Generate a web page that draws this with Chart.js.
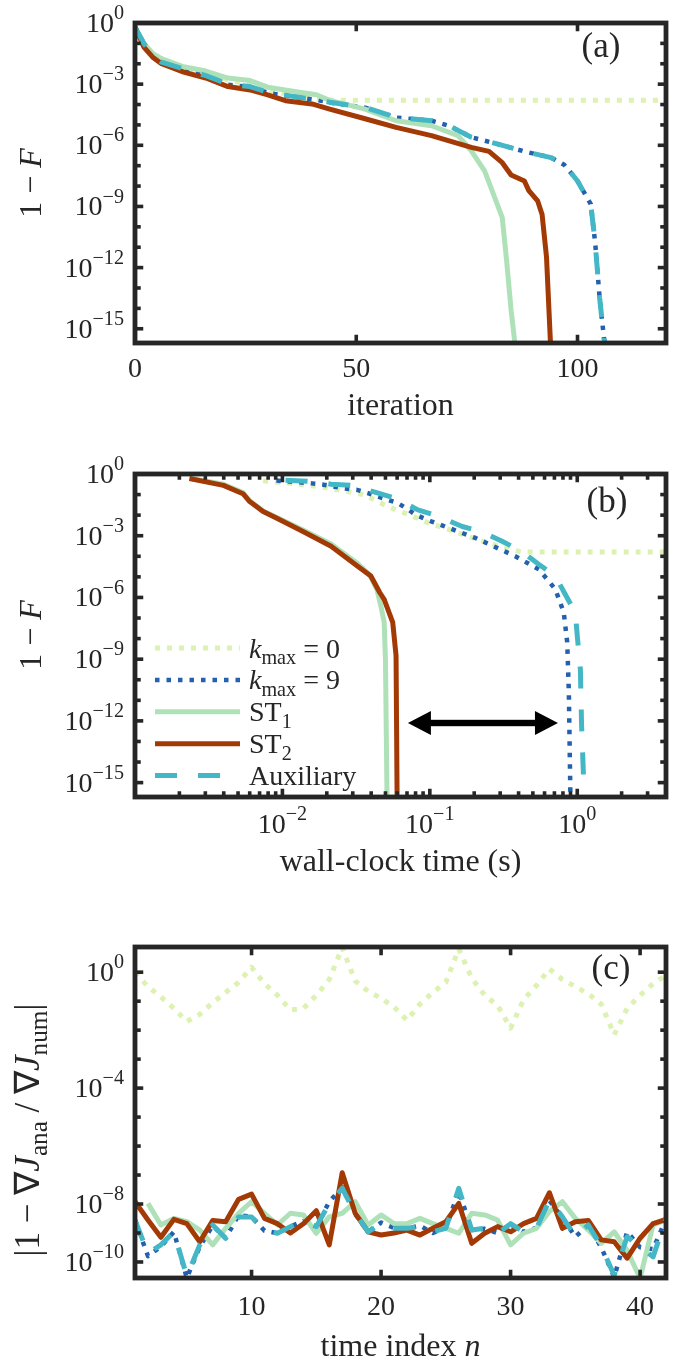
<!DOCTYPE html>
<html>
<head>
<meta charset="utf-8">
<title>Fidelity convergence and gradient error</title>
<script src="https://cdn.jsdelivr.net/npm/chart.js@4.4.1/dist/chart.umd.min.js"></script>
<style>
  html, body { margin: 0; padding: 0; background: #fff; }
  body { position: relative; width: 682px; height: 1361px; overflow: hidden; }
  canvas { position: absolute; left: 0; }
</style>
</head>
<body>
<canvas id="panelA" width="682" height="430" style="top:0px"></canvas>
<canvas id="panelB" width="682" height="460" style="top:430px"></canvas>
<canvas id="panelC" width="682" height="471" style="top:890px"></canvas>
<script>
// ---------- (a) infidelity vs iteration ----------
const iterKmax0 = [0, 2, 4, 6, 11, 16, 21, 26, 30, 36, 40, 42, 50, 60, 80, 100, 120];
const fidKmax0 = [0.63, 0.1, 0.028, 0.014, 6.3e-3, 3.5e-3, 1.6e-3, 1.0e-3, 5.0e-4, 2.8e-4, 1.9e-4, 1.7e-4, 1.6e-4, 1.6e-4, 1.6e-4, 1.6e-4, 1.6e-4];

const iterKmax9 = [0, 2, 4, 6, 11, 16, 21, 26, 30, 36, 41, 44, 52, 59, 67, 71, 76, 82, 88, 94, 97, 100, 103, 104, 105, 106, 107];
const fidKmax9 = [0.63, 0.1, 0.025, 0.012, 5.4e-3, 2.5e-3, 9.5e-4, 7.2e-4, 3.8e-4, 2.3e-4, 1.7e-4, 1.26e-4, 7.0e-5, 2.3e-5, 1.6e-5, 9.0e-6, 2.5e-6, 1.15e-6, 5.0e-7, 2.5e-7, 1.1e-7, 1.8e-8, 1.3e-9, 1.6e-11, 3.2e-14, 3.2e-16, 5e-17];

const iterST1 = [0, 2, 4, 6, 11, 16, 21, 26, 30, 35, 41, 44, 52, 59, 67, 73, 76, 79, 81, 83, 84, 85, 86];
const fidST1 = [0.63, 0.1, 0.032, 0.018, 7.1e-3, 4.4e-3, 2.0e-3, 1.5e-3, 7.1e-4, 4.7e-4, 3.0e-4, 1.6e-4, 6.0e-5, 1.6e-5, 9.1e-6, 3.0e-6, 5.4e-7, 5.5e-8, 4.0e-9, 2.8e-10, 2.0e-12, 7.9e-15, 1e-16];

const iterST2 = [0, 2, 4, 6, 11, 16, 21, 26, 30, 34, 40, 44, 52, 59, 67, 71, 76, 80, 83, 85, 88, 89, 91, 92, 93, 94];
const fidST2 = [0.63, 0.066, 0.021, 0.01, 3.9e-3, 2.0e-3, 7.6e-4, 5.2e-4, 3.0e-4, 1.55e-4, 1.07e-4, 6.0e-5, 2.0e-5, 7.6e-6, 3.0e-6, 1.66e-6, 7.9e-7, 5.0e-7, 1.4e-7, 3.5e-8, 1.78e-8, 6.0e-9, 1.86e-9, 4.0e-10, 3.2e-12, 6.3e-17];

const iterAux = [0, 2, 4, 6, 11, 16, 21, 26, 30, 36, 41, 44, 52, 59, 67, 71, 76, 82, 88, 94, 97, 100, 103, 104, 105, 106, 107];
const fidAux = [0.63, 0.1, 0.025, 0.012, 5.6e-3, 2.6e-3, 1.02e-3, 7.6e-4, 4.0e-4, 2.45e-4, 1.74e-4, 1.29e-4, 7.2e-5, 2.35e-5, 1.62e-5, 9.1e-6, 2.5e-6, 1.15e-6, 5.0e-7, 2.5e-7, 1.17e-7, 1.78e-8, 1.26e-9, 1.6e-11, 3.2e-14, 3.2e-16, 5e-17];

// ---------- (b) infidelity vs wall-clock time (s) ----------
const timeKmax0 = [7.4e-3, 1.12e-2, 1.74e-2, 2.5e-2, 3.6e-2, 5.2e-2, 7.1e-2, 9.8e-2, 0.135, 0.182, 0.28, 0.42, 0.63, 1.26, 2.5, 4.1];
const wallKmax0 = [0.47, 0.35, 0.25, 0.16, 9.8e-2, 2.6e-2, 1.1e-2, 4.2e-3, 2.0e-3, 9.3e-4, 3.5e-4, 1.6e-4, 1.6e-4, 1.6e-4, 1.6e-4, 1.6e-4];

const timeKmax9 = [9.1e-3, 1.12e-2, 1.58e-2, 1.9e-2, 2.6e-2, 3.2e-2, 3.8e-2, 4.9e-2, 6.0e-2, 6.9e-2, 8.1e-2, 0.102, 0.204, 0.38, 0.55, 0.71, 0.81, 0.855, 0.877, 0.9];
const wallKmax9 = [0.48, 0.43, 0.35, 0.3, 0.2, 0.17, 0.117, 0.063, 0.04, 0.022, 0.01, 5.0e-3, 7.8e-4, 1.0e-4, 2.3e-5, 2.5e-6, 1.86e-7, 6.6e-9, 2.5e-11, 1e-16];

const timeST1 = [2.34e-3, 3.98e-3, 5.4e-3, 6.0e-3, 7.4e-3, 9.1e-3, 1.38e-2, 2.14e-2, 3.24e-2, 3.9e-2, 4.37e-2, 4.68e-2, 4.9e-2, 5.0e-2, 5.13e-2];
const wallST1 = [0.63, 0.32, 0.126, 0.05, 0.016, 7.9e-3, 1.9e-3, 4.0e-4, 4.5e-5, 1.26e-5, 2.5e-6, 3.2e-7, 6.2e-8, 1e-9, 1e-16];

const timeST2 = [2.34e-3, 3.98e-3, 5.4e-3, 6.0e-3, 7.4e-3, 9.1e-3, 1.38e-2, 2.14e-2, 3.24e-2, 3.98e-2, 4.57e-2, 4.9e-2, 5.6e-2, 5.9e-2, 6.0e-2];
const wallST2 = [0.6, 0.28, 0.11, 0.046, 0.015, 7.2e-3, 1.6e-3, 3.1e-4, 3.3e-5, 1.1e-5, 1.74e-6, 8.1e-7, 6.2e-8, 1.5e-9, 1e-16];

const timeAux = [1.05e-2, 1.48e-2, 2.14e-2, 2.95e-2, 4.47e-2, 6.0e-2, 8.3e-2, 0.107, 0.166, 0.224, 0.309, 0.417, 0.55, 0.71, 0.83, 0.97, 1.0, 1.05, 1.07, 1.1, 1.11];
const wallAux = [0.5, 0.45, 0.32, 0.28, 0.117, 6.3e-2, 1.8e-2, 1.05e-2, 2.8e-3, 1.6e-3, 5.4e-4, 1.8e-4, 4.0e-5, 1.1e-5, 1.4e-6, 1.86e-7, 1.4e-8, 3.2e-10, 6.3e-13, 3.2e-15, 1e-16];

// speed-up arrow between ST and auxiliary runs
const arrowTimes = [0.071, 0.74];
const arrowLevel = 7.9e-13;

// ---------- (c) gradient error vs time index n ----------
const timeIndex = [1, 2, 3, 4, 5, 6, 7, 8, 9, 10, 11, 12, 13, 14, 15, 16, 17, 18, 19, 20, 21,
  22, 23, 24, 25, 26, 27, 28, 29, 30, 31, 32, 33, 34, 35, 36, 37, 38, 39, 40, 41, 42];
const gradKmax0 = [1.0, 0.32, 0.14, 0.056, 0.02, 0.035, 0.089, 0.2, 0.45, 1.48,
  0.4, 0.16, 0.05, 0.056, 0.16, 0.56, 7.1, 0.5, 0.22, 0.126,
  0.063, 0.022, 0.079, 0.2, 0.45, 6.3, 0.63, 0.16, 0.071, 0.0117,
  0.112, 0.35, 1.29, 0.56, 0.32, 0.18, 0.079, 0.0069, 0.056, 0.16,
  0.4, 0.78];
const gradKmax9 = [2.8e-9, 1.6e-10, 3.4e-10, 1.1e-9, 2.8e-11, 3.4e-10, 1.8e-9, 6.6e-10, 4.2e-9, 3.6e-9,
  1.2e-9, 9.8e-10, 1.66e-9, 2.6e-9, 1.7e-9, 1.2e-8, 3.8e-8, 4.5e-9, 1.1e-9, 2.3e-9,
  1.5e-9, 1.45e-9, 1.8e-9, 1.0e-9, 1.5e-9, 2.8e-8, 1.26e-9, 1.4e-9, 1.0e-9, 2.0e-9,
  1.1e-9, 1.5e-9, 1.3e-8, 3.4e-9, 7.4e-10, 1.9e-9, 3.2e-10, 3.0e-11, 1.1e-9, 3.2e-10,
  2.8e-10, 3.0e-9];
const gradST1 = [null, 1.05e-8, 1.9e-9, 3.2e-9, 2.45e-9, 1.26e-9, 3.9e-10, 1.45e-9, 4.8e-9, 1.2e-8,
  4.8e-9, 1.9e-9, 4.8e-9, 4.2e-9, 9.8e-10, 3.6e-9, 4.8e-9, 1.2e-8, 1.9e-9, 4.2e-9,
  2.1e-9, 2.1e-9, 3.2e-9, 2.1e-9, 1.45e-9, 9.8e-10, 4.8e-9, 4.2e-9, 2.8e-9, 3.9e-10,
  9.8e-10, 1.45e-9, 5.5e-9, 1.2e-8, 3.2e-9, 1.26e-9, 4.4e-10, 1.1e-9, 2.5e-10, 2.75e-11,
  1.9e-9, 2.8e-9];
const gradST2 = [1.2e-8, 2.8e-9, 7.1e-10, 2.95e-9, 2.1e-9, 5.0e-10, 2.7e-9, 2.45e-9, 1.45e-8, 2.2e-8,
  3.2e-9, 2.1e-9, 1.0e-9, 2.1e-9, 5.9e-9, 3.9e-10, 1.2e-7, 4.8e-9, 1.1e-9, 8.5e-10,
  1.0e-9, 1.26e-9, 8.5e-10, 1.45e-9, 2.45e-9, 1.05e-8, 4.4e-10, 9.8e-10, 1.66e-9, 1.1e-9,
  2.1e-9, 3.2e-9, 2.45e-8, 1.45e-9, 2.45e-9, 2.7e-9, 5.8e-10, 5.0e-10, 1.35e-10, 6.6e-10,
  2.1e-9, 2.95e-9];
const gradAux = [2.8e-9, 2.0e-10, 3.9e-10, 1.1e-9, 3.2e-11, 3.9e-10, 1.9e-9, 6.6e-10, 3.6e-9, 3.6e-9,
  1.26e-9, 9.8e-10, 1.66e-9, 2.45e-9, 1.66e-9, 1.05e-8, 3.5e-8, 4.8e-9, 1.1e-9, 2.1e-9,
  1.45e-9, 1.45e-9, 1.66e-9, 1.1e-9, 1.45e-9, 3.5e-8, 1.26e-9, 1.45e-9, 9.8e-10, 2.1e-9,
  1.1e-9, 1.45e-9, 1.4e-8, 3.6e-9, 7.4e-10, 1.9e-9, 3.4e-10, 3.5e-11, 7.4e-10, 3.4e-10,
  1.5e-10, 3.2e-9];

// ---------- axis ticks (decade exponents) ----------
const iterTicks = [0, 50, 100];
const fidDecades = [0, -1, -2, -3, -4, -5, -6, -7, -8, -9, -10, -11, -12, -13, -14, -15];
const fidLabelled = [0, -3, -6, -9, -12, -15];
const wallDecades = [-3, -2, -1, 0];
const wallLabelled = [-2, -1, 0];
const wallMinor = [2, 3, 4, 5, 6, 7, 8, 9];
const nTicks = [10, 20, 30, 40];
const gradDecades = [0, -1, -2, -3, -4, -5, -6, -7, -8, -9, -10];
const gradLabelled = [0, -4, -8, -10];

// ---------- look ----------
const FONT = '"Liberation Serif", "Times New Roman", serif';
const INK = '#262626';
const TICK_SIZE = 28;
const TITLE_SIZE = 32;

const styles = {
  kmax0: { color: '#ddf1b2', width: 5, dash: [5, 7], order: 5 },
  kmax9: { color: '#2360ae', width: 4.5, dash: [4.5, 7], order: 4 },
  st1: { color: '#afe1b9', width: 5, dash: [], order: 3 },
  st2: { color: '#a33a06', width: 5, dash: [], order: 2 },
  aux: { color: '#44b7c6', width: 5, dash: [22, 21], order: 1 }
};

const legendRows = [
  { key: 'kmax0', runs: [['k', 'i'], ['max', 'sub'], [' = 0', 'n']] },
  { key: 'kmax9', runs: [['k', 'i'], ['max', 'sub'], [' = 9', 'n']] },
  { key: 'st1', runs: [['ST', 'n'], ['1', 'sub']] },
  { key: 'st2', runs: [['ST', 'n'], ['2', 'sub']] },
  { key: 'aux', runs: [['Auxiliary', 'n']] }
];

function setFont(ctx, size, italic) {
  ctx.font = (italic ? 'italic ' : '') + size + 'px ' + FONT;
}

function runSize(kind, size) {
  return (kind === 'sup' || kind === 'sub') ? size * 0.72 : size;
}

function richWidth(ctx, runs, size) {
  let w = 0;
  runs.forEach(([t, k]) => {
    setFont(ctx, runSize(k, size), k === 'i');
    w += ctx.measureText(t).width;
  });
  return w;
}

// draws mixed text (italic, sub/superscript) on a baseline
function drawRich(ctx, runs, x, y, size, align) {
  const w = richWidth(ctx, runs, size);
  let cx = align === 'center' ? x - w / 2 : align === 'right' ? x - w : x;
  ctx.textAlign = 'left';
  ctx.textBaseline = 'alphabetic';
  runs.forEach(([t, k]) => {
    setFont(ctx, runSize(k, size), k === 'i');
    let dy = 0;
    if (k === 'sup') dy = -size * 0.46;
    if (k === 'sub') dy = size * 0.24;
    ctx.fillText(t, cx, y + dy);
    cx += ctx.measureText(t).width;
  });
}

function powerLabel(e) {
  return [['10', 'n'], [e < 0 ? '\u2212' + (-e) : String(e), 'sup']];
}

function lineSet(key, xs, ys) {
  const st = styles[key];
  return {
    label: key,
    data: xs.map((x, i) => ({ x: x, y: ys[i] })),
    borderColor: st.color,
    borderWidth: st.width,
    borderDash: st.dash,
    borderCapStyle: 'butt',
    borderJoinStyle: 'round',
    pointRadius: 0,
    tension: 0,
    fill: false,
    order: st.order
  };
}

function strokeSample(ctx, key, x1, x2, y) {
  const st = styles[key];
  ctx.save();
  ctx.strokeStyle = st.color;
  ctx.lineWidth = st.width;
  ctx.setLineDash(st.dash);
  ctx.lineCap = 'butt';
  ctx.beginPath();
  ctx.moveTo(x1, y);
  ctx.lineTo(x2, y);
  ctx.stroke();
  ctx.restore();
}

// frame, inward ticks, labels, titles and panel tag
function decorate(spec) {
  return {
    id: 'decorate',
    afterDraw(chart) {
      const { ctx, chartArea: a } = chart;
      const sx = chart.scales.x;
      const sy = chart.scales.y;
      ctx.save();

      if (spec.extra) spec.extra(chart, ctx);

      ctx.fillStyle = INK;
      spec.xTicks.forEach(t => {
        const p = sx.getPixelForValue(t.v);
        if (p < a.left + 3 || p > a.right - 3) return;
        const len = (t.long ? 6 : 3.5) + 2.25;
        ctx.fillRect(p - 1.8, a.bottom - len, 3.6, len);
        ctx.fillRect(p - 1.8, a.top, 3.6, len);
      });
      spec.yTicks.forEach(t => {
        const p = sy.getPixelForValue(t.v);
        if (p < a.top + 3 || p > a.bottom - 3) return;
        const len = (t.long ? 6 : 3.5) + 2.25;
        ctx.fillRect(a.left, p - 1.8, len, 3.6);
        ctx.fillRect(a.right - len, p - 1.8, len, 3.6);
      });
      ctx.strokeStyle = INK;
      ctx.lineWidth = 4.8;
      ctx.strokeRect(a.left, a.top, a.right - a.left, a.bottom - a.top);

      spec.xLabels.forEach(l => {
        drawRich(ctx, l.runs, sx.getPixelForValue(l.v), spec.xLabelBase, TICK_SIZE, 'center');
      });
      spec.yLabels.forEach(l => {
        drawRich(ctx, l.runs, 124, sy.getPixelForValue(l.v) + 9, TICK_SIZE, 'right');
      });

      drawRich(ctx, spec.xTitle, (a.left + a.right) / 2, spec.xTitleBase, TITLE_SIZE, 'center');
      ctx.save();
      ctx.translate(spec.yTitleX, spec.yTitleMid);
      ctx.rotate(-Math.PI / 2);
      drawRich(ctx, spec.yTitle, 0, 0, spec.yTitleSize || TITLE_SIZE, 'center');
      ctx.restore();

      drawRich(ctx, [[spec.tag, 'n']], spec.tagX, spec.tagBase, 35, 'center');
      ctx.restore();
    }
  };
}

function baseOptions(xScale, yScale, padding, xHeight) {
  return {
    responsive: false,
    animation: false,
    events: [],
    layout: { padding: padding },
    plugins: { legend: { display: false }, tooltip: { enabled: false } },
    scales: {
      x: Object.assign({
        ticks: { display: false },
        grid: { display: false },
        border: { display: false },
        afterFit: s => { s.height = xHeight; }
      }, xScale),
      y: Object.assign({
        ticks: { display: false },
        grid: { display: false },
        border: { display: false },
        afterFit: s => { s.width = 135; }
      }, yScale)
    }
  };
}

const fidTicks = fidDecades.map(e => ({ v: Math.pow(10, e), long: fidLabelled.includes(e) }));
const fidLabels = fidLabelled.map(e => ({ v: Math.pow(10, e), runs: powerLabel(e) }));
const oneMinusF = [['1 \u2212 ', 'n'], ['F', 'i']];

// ---------- panel (a) ----------
new Chart(document.getElementById('panelA'), {
  type: 'line',
  data: {
    datasets: [
      lineSet('kmax0', iterKmax0, fidKmax0),
      lineSet('kmax9', iterKmax9, fidKmax9),
      lineSet('st1', iterST1, fidST1),
      lineSet('st2', iterST2, fidST2),
      lineSet('aux', iterAux, fidAux)
    ]
  },
  options: baseOptions(
    { type: 'linear', min: 0, max: 120 },
    { type: 'logarithmic', min: 2e-16, max: 1 },
    { top: 23, right: 16, left: 0, bottom: 0 }, 87),
  plugins: [decorate({
    xTicks: iterTicks.map(v => ({ v: v, long: true })),
    yTicks: fidTicks,
    xLabels: iterTicks.map(v => ({ v: v, runs: [[String(v), 'n']] })),
    yLabels: fidLabels,
    xLabelBase: 377,
    xTitle: [['iteration', 'n']],
    xTitleBase: 415,
    yTitle: oneMinusF,
    yTitleX: 41,
    yTitleMid: 183,
    tag: '(a)', tagX: 601, tagBase: 57
  })]
});

// ---------- panel (b) ----------
const wallTicks = [];
wallDecades.forEach(e => {
  wallTicks.push({ v: Math.pow(10, e), long: true });
  wallMinor.forEach(m => wallTicks.push({ v: m * Math.pow(10, e), long: false }));
});

function drawLegendAndArrow(chart, ctx) {
  const sx = chart.scales.x;
  const sy = chart.scales.y;
  // double-headed arrow
  const x1 = sx.getPixelForValue(arrowTimes[0]);
  const x2 = sx.getPixelForValue(arrowTimes[1]);
  const y = sy.getPixelForValue(arrowLevel);
  ctx.fillStyle = '#000';
  ctx.fillRect(x1 + 18, y - 3.2, x2 - x1 - 36, 6.4);
  ctx.beginPath();
  ctx.moveTo(x1, y); ctx.lineTo(x1 + 23, y - 12); ctx.lineTo(x1 + 23, y + 12); ctx.closePath();
  ctx.moveTo(x2, y); ctx.lineTo(x2 - 23, y - 12); ctx.lineTo(x2 - 23, y + 12); ctx.closePath();
  ctx.fill();
  // legend
  legendRows.forEach((row, i) => {
    const cy = 218 + i * 31.9;
    strokeSample(ctx, row.key, 155, 240, cy);
    ctx.fillStyle = INK;
    drawRich(ctx, row.runs, 249, cy + 9.5, 28, 'left');
  });
}

new Chart(document.getElementById('panelB'), {
  type: 'line',
  data: {
    datasets: [
      lineSet('kmax0', timeKmax0, wallKmax0),
      lineSet('kmax9', timeKmax9, wallKmax9),
      lineSet('st1', timeST1, wallST1),
      lineSet('st2', timeST2, wallST2),
      lineSet('aux', timeAux, wallAux)
    ]
  },
  options: baseOptions(
    { type: 'logarithmic', min: 1e-3, max: 4 },
    { type: 'logarithmic', min: 2e-16, max: 1 },
    { top: 44, right: 16, left: 0, bottom: 0 }, 93),
  plugins: [decorate({
    xTicks: wallTicks,
    yTicks: fidTicks,
    xLabels: wallLabelled.map(e => ({ v: Math.pow(10, e), runs: powerLabel(e) })),
    yLabels: fidLabels,
    xLabelBase: 403,
    xTitle: [['wall-clock time (s)', 'n']],
    xTitleBase: 441,
    yTitle: oneMinusF,
    yTitleX: 41,
    yTitleMid: 205,
    tag: '(b)', tagX: 607, tagBase: 82,
    extra: drawLegendAndArrow
  })]
});

// ---------- panel (c) ----------
new Chart(document.getElementById('panelC'), {
  type: 'line',
  data: {
    datasets: [
      lineSet('kmax0', timeIndex, gradKmax0),
      lineSet('kmax9', timeIndex, gradKmax9),
      lineSet('st1', timeIndex, gradST1),
      lineSet('st2', timeIndex, gradST2),
      lineSet('aux', timeIndex, gradAux)
    ]
  },
  options: baseOptions(
    { type: 'linear', min: 1, max: 42 },
    { type: 'logarithmic', min: 2.8e-11, max: 7.4 },
    { top: 57, right: 16, left: 0, bottom: 0 }, 83),
  plugins: [decorate({
    xTicks: nTicks.map(v => ({ v: v, long: true })),
    yTicks: gradDecades.map(e => ({ v: Math.pow(10, e), long: gradLabelled.includes(e) })),
    xLabels: nTicks.map(v => ({ v: v, runs: [[String(v), 'n']] })),
    yLabels: gradLabelled.map(e => ({ v: Math.pow(10, e), runs: powerLabel(e) })),
    xLabelBase: 425,
    xTitle: [['time index ', 'n'], ['n', 'i']],
    xTitleBase: 466,
    yTitle: [['|1 \u2212 \u2207', 'n'], ['J', 'i'], ['ana', 'sub'], [' / \u2207', 'n'], ['J', 'i'], ['num', 'sub'], ['|', 'n']],
    yTitleSize: 35,
    yTitleX: 39,
    yTitleMid: 240,
    tag: '(c)', tagX: 611, tagBase: 89
  })]
});
</script>
</body>
</html>
